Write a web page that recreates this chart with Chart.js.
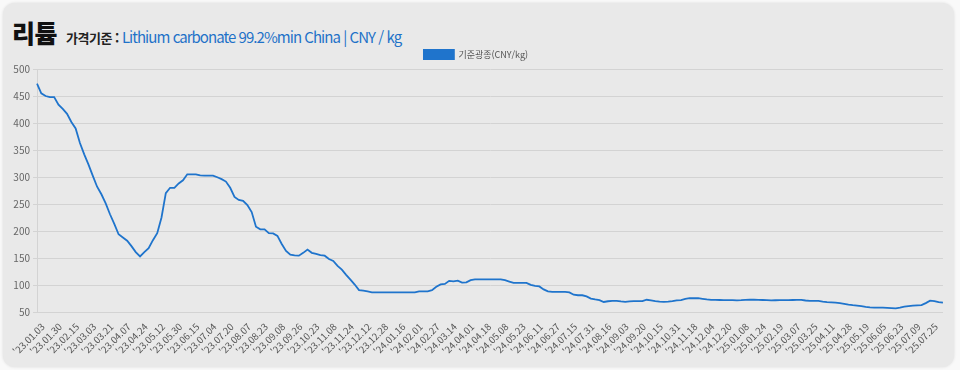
<!DOCTYPE html>
<html lang="ko">
<head>
<meta charset="utf-8">
<script src="https://cdn.jsdelivr.net/npm/chart.js@4.4.1/dist/chart.umd.min.js"></script>
<style>
  html, body { margin: 0; padding: 0; background: #f9f9f9; }
  body { width: 960px; height: 370px; position: relative; overflow: hidden; font-family: "Noto Sans CJK KR", "Noto Sans", sans-serif; }
  .card { position: absolute; left: 3px; top: 3px; width: 951px; height: 364px; background: #e9e9e9; border-radius: 12px; box-shadow: 0 0 3px rgba(0,0,0,0.12); }
  .title { position: absolute; left: 12px; top: 14px; white-space: nowrap; }
  .title .main { font-size: 25px; font-weight: 900; color: #111; letter-spacing: -0.5px; vertical-align: baseline; }
  .title .sub { font-size: 13px; font-weight: 700; color: #222; margin-left: 9px; letter-spacing: -0.5px; }
  .title .desc { font-size: 15px; color: #1f72c8; letter-spacing: -0.95px; }
  .chartBox { position: absolute; left: 0; top: 40px; width: 960px; height: 326px; }
</style>
</head>
<body>
<div class="card"></div>
<div class="title"><span class="main">리튬</span><span class="sub">가격기준 : </span><span class="desc">Lithium carbonate 99.2%min China | CNY / kg</span></div>
<div class="chartBox"><canvas id="lithiumChart"></canvas></div>

<script>
// 기준가격 데이터 (CNY/kg)
const seriesName = '기준광종(CNY/kg)';

// x축에 보이는 날짜 (4개 데이터마다 하나)
const dateLabels = [
    "'23.01.03", "'23.01.30", "'23.02.15", "'23.03.03", "'23.03.21", "'23.04.07", "'23.04.24", "'23.05.12",
    "'23.05.30", "'23.06.15", "'23.07.04", "'23.07.20", "'23.08.07", "'23.08.23", "'23.09.08", "'23.09.26",
    "'23.10.23", "'23.11.08", "'23.11.24", "'23.12.12", "'23.12.28", "'24.01.16", "'24.02.01", "'24.02.27",
    "'24.03.14", "'24.04.01", "'24.04.18", "'24.05.08", "'24.05.23", "'24.06.11", "'24.06.27", "'24.07.15",
    "'24.07.31", "'24.08.16", "'24.09.03", "'24.09.20", "'24.10.15", "'24.10.31", "'24.11.18", "'24.12.04",
    "'24.12.20", "'25.01.08", "'25.01.24", "'25.02.19", "'25.03.07", "'25.03.25", "'25.04.11", "'25.04.28",
    "'25.05.19", "'25.06.05", "'25.06.23", "'25.07.09", "'25.07.25"
];
const labelStep = 4;

// 2023년 가격
const prices2023 = [
    473, 455, 450, 448, 448, 434, 426, 417, 402, 390, 363, 342, 323, 302, 282, 268,
    251, 231, 213, 194, 188, 182, 172, 161, 153, 161, 168, 183, 196, 225, 270, 280,
    280, 288, 294, 305, 305, 305, 303, 302.5, 302.5, 302.5, 299.5, 296, 291.5, 280, 263, 257.6,
    256, 248, 235, 208, 203, 203, 196, 195.6, 191, 176, 163, 156, 155, 154.3, 159.5, 165.7,
    159.6, 157.8, 155.3, 154.3, 148, 144.4, 135.4, 128.5, 118.8, 110, 100.8, 90.5, 89.6, 88.1, 86.5, 86.4
];
// 2024년 가격
const prices2024 = [
    86.4, 86.4, 86.4, 86.4, 86.4, 86.4, 86.4, 86.4, 86.4, 88.3, 88.3, 88.3, 90.4, 96.7, 101, 101.9,
    107.7, 106.7, 108.1, 104.3, 104.9, 108.9, 110.5, 110.5, 110.5, 110.5, 110.5, 110.5, 110.5, 108.9, 106.4, 104,
    104, 104, 104, 100.3, 98.3, 97.3, 91.9, 88.2, 87.3, 87.3, 87.3, 87.3, 86.4, 82, 81, 81,
    79, 74.7, 73.2, 72, 68.6, 69.9, 70.5, 70.5, 69.6, 68.9, 69.8, 70, 70, 70, 72.7, 71.5,
    70.1, 69.1, 68.8, 69.1, 70.1, 71.7, 72.1, 74.1, 75.5, 75.5, 75.5, 74.4, 73.3, 72.5, 72.3, 72.2
];
// 2025년 가격
const prices2025 = [
    72.1, 72, 71.9, 71.7, 72, 72.6, 72.9, 72.7, 72.4, 72.2, 72, 71.7, 71.8, 71.9, 72, 72.1,
    72.2, 72.3, 72.4, 71.3, 70.5, 70.5, 70.5, 69.3, 68.3, 67.7, 67.2, 66.3, 64.9, 63.5, 62.6, 62,
    60.7, 59.5, 58.6, 58, 58, 58, 57.8, 57.3, 56.9, 58.1, 59.8, 60.8, 61.7, 62.3, 62.8, 66.5,
    71, 70.2, 68.2, 67.4
];

const priceValues = prices2023.concat(prices2024, prices2025);
const xLabels = priceValues.map((v, i) => i % labelStep === 0 ? (dateLabels[i / labelStep] || '') : '');

// y축 범위
const yMin = 50;
const yMax = 500;
const yStep = 50;

const lineColor = '#1f74cc';
const gridColor = '#d3d3d3';
const fontFamily = '"Noto Sans CJK KR", "Noto Sans", sans-serif';

const ctx = document.getElementById('lithiumChart').getContext('2d');
new Chart(ctx, {
    type: 'line',
    data: {
        labels: xLabels,
        datasets: [{
            label: seriesName,
            data: priceValues,
            borderColor: lineColor,
            backgroundColor: lineColor,
            borderWidth: 1.8,
            pointRadius: 0,
            tension: 0,
            fill: false
        }]
    },
    options: {
        responsive: true,
        maintainAspectRatio: false,
        animation: false,
        layout: {
            padding: { left: 7, right: 15, top: 0, bottom: 8 }
        },
        plugins: {
            legend: {
                display: true,
                position: 'top',
                labels: {
                    boxWidth: 30,
                    boxHeight: 9,
                    color: '#555',
                    font: { size: 9, family: fontFamily }
                }
            },
            tooltip: { enabled: false }
        },
        scales: {
            x: {
                grid: { display: false, drawTicks: false },
                border: { color: gridColor },
                ticks: {
                    autoSkip: false,
                    maxRotation: 45,
                    minRotation: 45,
                    padding: 9,
                    labelOffset: 6,
                    color: '#555',
                    font: { size: 9.5, family: fontFamily }
                },
                afterFit: function(scale) { scale.height = 46; }
            },
            y: {
                min: yMin,
                max: yMax,
                grid: { color: gridColor, tickLength: 4 },
                border: { color: gridColor },
                ticks: {
                    stepSize: yStep,
                    padding: 3,
                    color: '#666',
                    font: { size: 10, family: fontFamily }
                },
                afterFit: function(scale) { scale.width = 30; }
            }
        }
    }
});
</script>
</body>
</html>
